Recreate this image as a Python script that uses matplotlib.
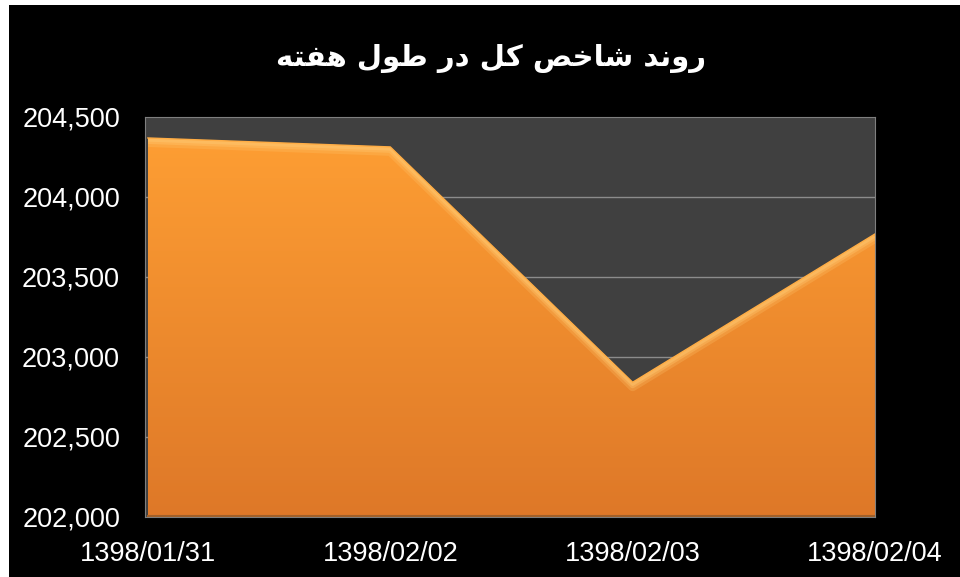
import numpy as np
import matplotlib.pyplot as plt
from matplotlib.patches import Rectangle, Polygon
from matplotlib.ticker import FuncFormatter

# data
dates=["1398/01/31","1398/02/02","1398/02/03","1398/02/04"]
index_vals=[204369,204313,202842,203769]
yticks=[202000,202500,203000,203500,204000,204500]

# title, logical text and pre-shaped glyphs (matplotlib has no arabic shaping)
title_logical="روند شاخص کل در طول هفته"
title_words=["\uFEEA\uFE98\uFED4\uFEEB","\uFEDD\uFEEE\uFEC3","\uFEAD\uFEA9",
             "\uFEDE\uFEDB","\uFEBA\uFEA7\uFE8E\uFEB7","\uFEAA\uFEE7\uFEED\uFEAD"]

plt.rcParams['font.family']=['Liberation Sans','DejaVu Sans']

fig=plt.figure(figsize=(9.6,5.77),dpi=100,facecolor="white")
# black chart area with a thin white strip top/left like the screenshot
fig.patches.append(Rectangle((9/960,0),1,1-5/577,transform=fig.transFigure,
                             facecolor="black",edgecolor="none",zorder=-10))

ax=fig.add_axes([145/960,1-517/577,730/960,400/577])
ax.set_facecolor("#404040")

x=np.arange(len(dates))
ymin,ymax=202000,204500
ax.set_xlim(-0.012,3.0)
ax.set_ylim(ymin,ymax)

for yt in yticks[1:-1]:
    ax.axhline(yt,color="#8c8c8c",lw=1.0,zorder=1)

# gradient area
verts=[(x[0],ymin)]+list(zip(x,index_vals))+[(x[-1],ymin)]
poly=Polygon(verts,closed=True,facecolor="none",edgecolor="none")
ax.add_patch(poly)
grad=np.linspace(0,1,256).reshape(-1,1)
top=np.array([255,160,52])/255.
bot=np.array([222,120,40])/255.
img=top+(bot-top)*grad[...,None]
img=img.reshape(256,1,3)
im=ax.imshow(img,extent=[x[0],x[-1],ymin,ymax],aspect="auto",origin="upper",zorder=2)
im.set_clip_path(poly)

# soft bevel along the top edge
vals=np.array(index_vals)
for off,lw,a in [(30,6,0.25),(20,4,0.35),(12,2.5,0.45)]:
    ln,=ax.plot(x,vals-off,color="#ffc870",lw=lw,alpha=a,zorder=3,solid_capstyle="butt")
    ln.set_clip_path(poly)
ax.plot(x,vals,color="#ffad45",lw=1.0,zorder=3)
ax.plot([x[0],x[-1]],[ymin+6,ymin+6],color="#a0602a",lw=1.5,zorder=3)

for s in ax.spines.values():
    s.set_color("#7f7f7f")
    s.set_linewidth(0.8)
ax.set_xticks(x)
ax.set_xticklabels(dates)
ax.set_yticks(yticks)
ax.yaxis.set_major_formatter(FuncFormatter(lambda v,p:"{:,.0f}".format(v)))
ax.tick_params(length=0,colors="white",labelsize=19.5)
ax.tick_params(axis="y",pad=18)
ax.tick_params(axis="x",pad=17)

fig.text(0.511,1-58/577," ".join(title_words),color="white",fontsize=21,
         fontweight="bold",ha="center",va="center",family=["DejaVu Sans"])

fig.savefig("out.png",dpi=100,facecolor=fig.get_facecolor())
